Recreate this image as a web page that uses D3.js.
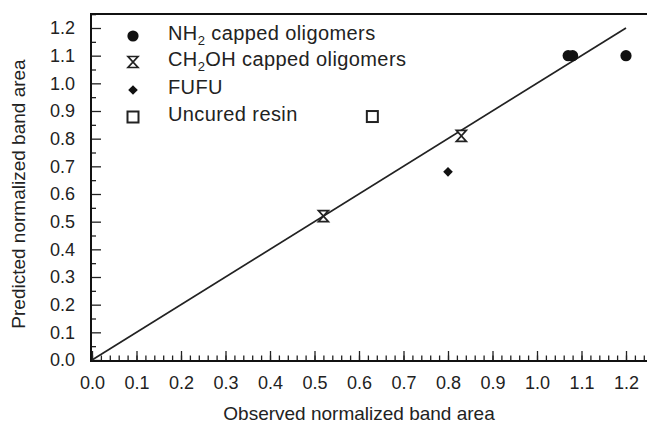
<!DOCTYPE html>
<html>
<head>
<meta charset="utf-8">
<script src="https://cdn.jsdelivr.net/npm/d3@7"></script>
<style>
  body { margin: 0; background: #fff; }
  svg text { font-family: "Liberation Sans", Arial, sans-serif; fill: #222; }
</style>
</head>
<body>
<svg id="svg"></svg>
<script>
// series data (observed, predicted)
const nh2Points = [[1.07, 1.10], [1.08, 1.10], [1.20, 1.10]];
const ch2ohPoints = [[0.52, 0.52], [0.83, 0.81]];
const fufuPoints = [[0.80, 0.68]];
const uncuredPoints = [[0.63, 0.88]];
const parityLine = [[0, 0], [1.2, 1.2]];

const tickValues = [0, 0.1, 0.2, 0.3, 0.4, 0.5, 0.6, 0.7, 0.8, 0.9, 1.0, 1.1, 1.2];
const legendItems = ["nh2", "ch2oh", "fufu", "uncured"];

const width = 647;
const height = 424;

let svg = d3.select("#svg").attr("width", width).attr("height", height);

let xScale = d3.scaleLinear().domain([0, 1.2]).range([92, 626]);
let yScale = d3.scaleLinear().domain([0, 1.2]).range([360, 28]);

const fmt = d3.format(".1f");

// minor ticks
svg.append("g")
    .attr("transform", "translate(0,360)")
    .call(d3.axisBottom(xScale).tickValues(d3.range(0, 1.301, 0.02)).tickSize(-4.5).tickFormat(""))
    .call(g => g.select(".domain").remove());
svg.append("g")
    .attr("transform", "translate(91,0)")
    .call(d3.axisLeft(yScale).tickValues(d3.range(0.05, 1.3, 0.1)).tickSize(-5).tickFormat(""))
    .call(g => g.select(".domain").remove());

// major ticks
let xAxis = svg.append("g")
    .attr("transform", "translate(0,360)")
    .call(d3.axisBottom(xScale).tickValues(tickValues).tickSize(-9).tickPadding(16).tickFormat(fmt));
xAxis.select(".domain").remove();
xAxis.selectAll("text").style("font-size", "18px");

let yAxis = svg.append("g")
    .attr("transform", "translate(91,0)")
    .call(d3.axisLeft(yScale).tickValues(tickValues).tickSize(-10).tickPadding(16).tickFormat(fmt));
yAxis.select(".domain").remove();
yAxis.selectAll("text").style("font-size", "18px");

svg.selectAll(".tick line").attr("stroke", "#222").attr("stroke-width", 1.3);

// frame lines
svg.append("line").attr("x1", 91).attr("x2", 647).attr("y1", 14).attr("y2", 14)
    .attr("stroke", "#111").attr("stroke-width", 2);
svg.append("line").attr("x1", 91).attr("x2", 91).attr("y1", 13).attr("y2", 361)
    .attr("stroke", "#111").attr("stroke-width", 2);
svg.append("line").attr("x1", 90).attr("x2", 647).attr("y1", 361).attr("y2", 361)
    .attr("stroke", "#111").attr("stroke-width", 2);

// y = x line
svg.append("path")
    .datum(parityLine)
    .attr("d", d3.line().x(d => xScale(d[0])).y(d => yScale(d[1])))
    .attr("stroke", "#222")
    .attr("stroke-width", 1.7)
    .attr("fill", "none");

// marker drawing
const hourglass = "M-5,-5.5H5L-5,5.5H5Z";
function drawMarker(g, kind) {
    if (kind === "nh2") {
        g.append("circle").attr("r", 5.6).attr("fill", "#111");
    } else if (kind === "ch2oh") {
        g.append("path").attr("d", hourglass).attr("fill", "#fff")
            .attr("stroke", "#222").attr("stroke-width", 1.7);
    } else if (kind === "fufu") {
        g.append("path").attr("d", "M0,-4.8L4.8,0L0,4.8L-4.8,0Z").attr("fill", "#111");
    } else {
        g.append("rect").attr("x", -5.5).attr("y", -5.5).attr("width", 11).attr("height", 11)
            .attr("fill", "#fff").attr("stroke", "#222").attr("stroke-width", 2);
    }
}

const seriesMap = { nh2: nh2Points, ch2oh: ch2ohPoints, fufu: fufuPoints, uncured: uncuredPoints };
for (let key of legendItems) {
    svg.selectAll(null)
        .data(seriesMap[key])
        .enter()
        .append("g")
        .attr("transform", d => `translate(${xScale(d[0])},${yScale(d[1])})`)
        .each(function () { drawMarker(d3.select(this), key); });
}

// legend
const legendY = [36, 62, 90, 117];
legendItems.forEach((key, i) => {
    let g = svg.append("g").attr("transform", `translate(133,${legendY[i]})`);
    drawMarker(g, key);
    let t = g.append("text").attr("x", 35).attr("y", 4)
        .style("font-size", "20px").style("letter-spacing", "0.4px");
    if (key === "nh2") {
        t.append("tspan").text("NH");
        t.append("tspan").attr("dy", 5).style("font-size", "13px").text("2");
        t.append("tspan").attr("dy", -5).text(" capped oligomers");
    } else if (key === "ch2oh") {
        t.append("tspan").text("CH");
        t.append("tspan").attr("dy", 5).style("font-size", "13px").text("2");
        t.append("tspan").attr("dy", -5).text("OH capped oligomers");
    } else if (key === "fufu") {
        t.text("FUFU");
    } else {
        t.text("Uncured resin");
    }
});

// axis titles
svg.append("text")
    .attr("x", 359)
    .attr("y", 420)
    .attr("text-anchor", "middle")
    .style("font-size", "19px")
    .text("Observed normalized band area");

svg.append("text")
    .attr("transform", "translate(25,194) rotate(-90)")
    .attr("text-anchor", "middle")
    .style("font-size", "19px")
    .text("Predicted normalized band area");
</script>
</body>
</html>
